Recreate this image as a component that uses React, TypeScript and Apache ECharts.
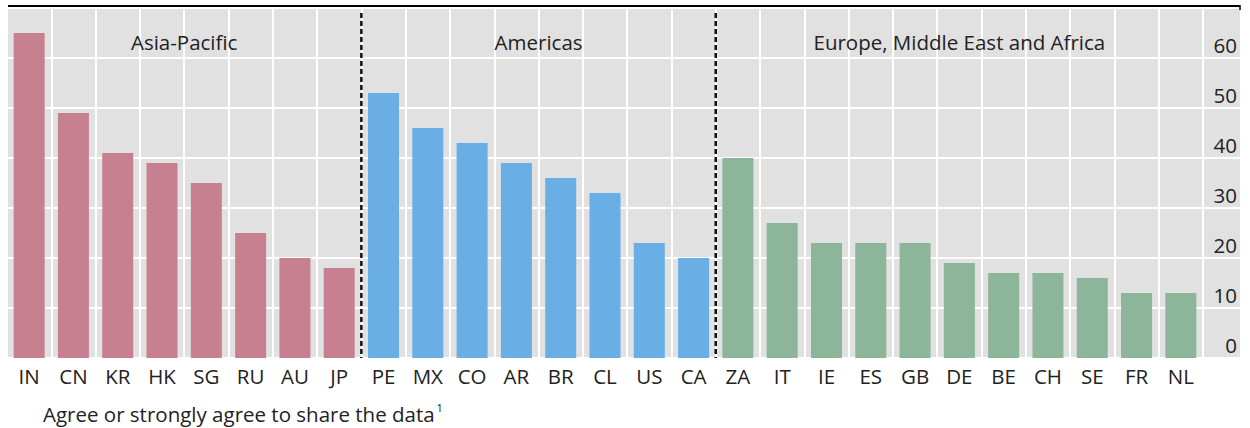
import React, { useEffect, useRef } from "react";
import * as echarts from "echarts";

const regionNames = ["Asia-Pacific", "Americas", "Europe, Middle East and Africa"];
const regionColors = ["#c7808f", "#69afe6", "#8cb59a"];

const asiaCodes = ["IN", "CN", "KR", "HK", "SG", "RU", "AU", "JP"];
const asiaValues = [65, 49, 41, 39, 35, 25, 20, 18];

const americasCodes = ["PE", "MX", "CO", "AR", "BR", "CL", "US", "CA"];
const americasValues = [53, 46, 43, 39, 36, 33, 23, 20];

const emeaCodes = ["ZA", "IT", "IE", "ES", "GB", "DE", "BE", "CH", "SE", "FR", "NL"];
const emeaValues = [40, 27, 23, 23, 23, 19, 17, 17, 16, 13, 13];

const yTicks = [0, 10, 20, 30, 40, 50, 60, 70];
const footnote = "Agree or strongly agree to share the data";

const FONT = "'Open Sans', 'Noto Sans', sans-serif";
const FS = 20.5;
const BG = "#e1e1e1";

export default function App() {
  const ref = useRef<HTMLDivElement>(null);

  useEffect(() => {
    if (!ref.current) return;
    const chart = echarts.init(ref.current, null, { renderer: "svg" });

    const groups = [
      { codes: asiaCodes, values: asiaValues },
      { codes: americasCodes, values: americasValues },
      { codes: emeaCodes, values: emeaValues },
    ];
    const categories: string[] = [];
    const data: any[] = [];
    groups.forEach((g, gi) => {
      g.codes.forEach((c, i) => {
        categories.push(c);
        data.push({ value: g.values[i], itemStyle: { color: regionColors[gi] } });
      });
    });

    const yMin = yTicks[0];
    const yMax = yTicks[yTicks.length - 1];
    const yInt = yTicks[1] - yTicks[0];

    chart.setOption({
      animation: false,
      grid: [
        { left: 7, right: 47, top: 8, bottom: 70, show: true, backgroundColor: BG, borderWidth: 0 },
        { left: 1203, right: 10, top: 8, bottom: 70, show: true, backgroundColor: BG, borderWidth: 0 },
      ],
      xAxis: [
        {
          type: "category",
          gridIndex: 0,
          data: categories,
          axisLine: { show: false },
          axisTick: { show: false },
          splitLine: { show: true, interval: 0, lineStyle: { color: "#ffffff", width: 2 } },
          axisLabel: { interval: 0, fontSize: FS, fontFamily: FONT, color: "#222", margin: 7 },
        },
        {
          type: "category",
          gridIndex: 1,
          data: [""],
          show: false,
        },
      ],
      yAxis: [
        {
          type: "value",
          gridIndex: 0,
          min: yMin,
          max: yMax,
          interval: yInt,
          axisLine: { show: false },
          axisTick: { show: false },
          axisLabel: { show: false },
          splitLine: { show: true, lineStyle: { color: "#ffffff", width: 2 } },
        },
        {
          type: "value",
          gridIndex: 1,
          position: "right",
          min: yMin,
          max: yMax,
          interval: yInt,
          axisLine: { show: false },
          axisTick: { show: false },
          axisLabel: {
            inside: true,
            align: "right",
            verticalAlign: "bottom",
            margin: 3,
            padding: [0, 0, 3, 0],
            showMaxLabel: false,
            fontSize: FS,
            fontFamily: FONT,
            color: "#222",
          },
          splitLine: { show: true, lineStyle: { color: "#ffffff", width: 2 } },
        },
      ],
      series: [
        {
          type: "bar",
          xAxisIndex: 0,
          yAxisIndex: 0,
          data,
          barCategoryGap: "30%",
        },
      ],
    });

    const px = (i: number) => chart.convertToPixel({ xAxisIndex: 0 }, categories[i]) as number;
    const yTop = chart.convertToPixel({ yAxisIndex: 0 }, yMax) as number;
    const yBottom = chart.convertToPixel({ yAxisIndex: 0 }, yMin) as number;
    const step = px(1) - px(0);
    const leftEdge = px(0) - step / 2;

    const graphics: any[] = [];
    let start = 0;
    groups.forEach((g, gi) => {
      const end = start + g.codes.length - 1;
      const cx = (px(start) + px(end)) / 2;
      graphics.push({
        type: "text",
        x: cx,
        y: yTop + 34,
        style: {
          text: regionNames[gi],
          fontSize: FS,
          fontFamily: FONT,
          fill: "#222",
          align: "center",
          verticalAlign: "middle",
        },
      });
      if (gi > 0) {
        const bx = (px(start - 1) + px(start)) / 2;
        graphics.push({
          type: "line",
          shape: { x1: bx, y1: yTop + 5, x2: bx, y2: yBottom },
          style: { stroke: "#111", lineWidth: 2.5, lineDash: [5, 3] },
          z: 10,
        });
      }
      start = end + 1;
    });

    graphics.push({
      type: "line",
      shape: { x1: leftEdge + 1, y1: yTop - 2, x2: 1240, y2: yTop - 2 },
      style: { stroke: "#000", lineWidth: 2 },
      z: 10,
    });
    graphics.push({
      type: "line",
      shape: { x1: 1240, y1: yTop - 3, x2: 1240, y2: yTop + 2 },
      style: { stroke: "#000", lineWidth: 1.5 },
      z: 10,
    });
    graphics.push({
      type: "text",
      x: 43,
      y: yBottom + 56,
      style: {
        text: footnote + "{sup|1}",
        fontSize: FS,
        fontFamily: FONT,
        fill: "#222",
        verticalAlign: "middle",
        rich: {
          sup: { fontSize: 11, fontFamily: FONT, fill: "#222", padding: [0, 0, 13, 2] },
        },
      },
    });

    chart.setOption({ graphic: graphics });

    return () => chart.dispose();
  }, []);

  return (
    <div
      ref={ref}
      style={{ position: "fixed", left: 0, top: 0, width: 1250, height: 428, background: "#fff" }}
    />
  );
}
